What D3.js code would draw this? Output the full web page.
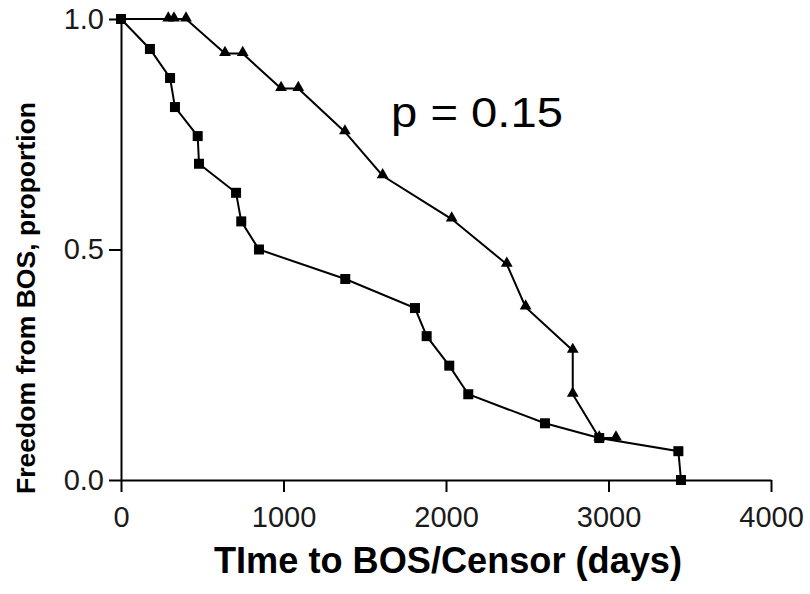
<!DOCTYPE html>
<html lang="en">
<head>
    <meta charset="UTF-8">
    <title>Freedom from BOS</title>
    <script src="https://d3js.org/d3.v7.min.js" charset="utf-8"></script>
    <style>
        body { margin: 0; background: #fff; }
        .axis text { font: 29px Arial, "Liberation Sans", sans-serif; fill: #1a1a1a; }
        .axis path, .axis line { stroke: #000; stroke-width: 2px; }
        .curve { fill: none; stroke: #000; stroke-width: 2px; }
        .title { font-family: Arial, "Liberation Sans", sans-serif; font-weight: bold; fill: #000; }
    </style>
</head>
<body>
<script>
    // group 1 (squares): days and proportion free from BOS
    var sqDays = [0, 178, 302, 332, 472, 480, 708, 740, 849, 1380, 1809, 1881, 2020, 2137, 2609, 2943, 3430, 3446];
    var sqProp = [1.0, 0.935, 0.872, 0.809, 0.746, 0.686, 0.623, 0.561, 0.5, 0.436, 0.373, 0.312, 0.248, 0.186, 0.123, 0.091, 0.0625, 0.0];

    // group 2 (triangles)
    var trDays = [0, 291, 326, 400, 640, 749, 985, 1091, 1378, 1610, 2035, 2374, 2490, 2780, 2780, 2943, 3046];
    var trProp = [1.0, 1.0, 1.0, 1.0, 0.925, 0.925, 0.849, 0.849, 0.755, 0.660, 0.566, 0.468, 0.375, 0.281, 0.186, 0.091, 0.091];

    var xTicks = [0, 1000, 2000, 3000, 4000];
    var yTicks = [0.0, 0.5, 1.0];
    var pLabel = "p = 0.15";

    // margin
    var margin = {top: 19, right: 39, bottom: 114, left: 121},
        width = 810 - margin.left - margin.right,
        height = 594 - margin.top - margin.bottom;

    var svg = d3.select("body").append("svg")
        .attr("width", 810)
        .attr("height", 594);

    var g = svg.append("g")
        .attr("transform", "translate(" + margin.left + "," + margin.top + ")");

    // scales
    var x = d3.scaleLinear().domain([0, 4000]).range([0, width]);
    var y = d3.scaleLinear().domain([0, 1]).range([height, 0]);

    // axes
    g.append("g")
        .attr("class", "axis")
        .attr("transform", "translate(0," + height + ")")
        .call(d3.axisBottom(x).tickValues(xTicks).tickFormat(d3.format("d")).tickSize(12).tickSizeOuter(0).tickPadding(14));

    g.append("g")
        .attr("class", "axis")
        .call(d3.axisLeft(y).tickValues(yTicks).tickFormat(d3.format(".1f")).tickSize(12).tickSizeOuter(0).tickPadding(5));

    // line generator
    var line = d3.line()
        .x(function(d) { return x(d[0]); })
        .y(function(d) { return y(d[1]); });

    var sq = sqDays.map(function(d, i) { return [d, sqProp[i]]; });
    var tr = trDays.map(function(d, i) { return [d, trProp[i]]; });

    g.append("path").attr("class", "curve").attr("d", line(tr));
    g.append("path").attr("class", "curve").attr("d", line(sq));

    // triangle markers (skip the start point)
    var triSym = d3.symbol().type(d3.symbolTriangle).size(60);
    g.selectAll(".tri")
        .data(tr.slice(1))
        .enter().append("path")
        .attr("class", "tri")
        .attr("d", triSym)
        .attr("transform", function(d) { return "translate(" + x(d[0]) + "," + (y(d[1]) - 1) + ")"; })
        .style("fill", "#000");

    // square markers
    g.selectAll(".sq")
        .data(sq)
        .enter().append("rect")
        .attr("class", "sq")
        .attr("x", function(d) { return x(d[0]) - 5; })
        .attr("y", function(d) { return y(d[1]) - 5; })
        .attr("width", 10)
        .attr("height", 10)
        .style("fill", "#000");

    // p value
    svg.append("text")
        .attr("x", 391)
        .attr("y", 127)
        .attr("textLength", 172)
        .attr("lengthAdjust", "spacingAndGlyphs")
        .style("font", "42px Arial, 'Liberation Sans', sans-serif")
        .text(pLabel);

    // axis titles
    svg.append("text")
        .attr("class", "title")
        .attr("x", 448)
        .attr("y", 573)
        .attr("text-anchor", "middle")
        .attr("textLength", 468)
        .attr("lengthAdjust", "spacingAndGlyphs")
        .style("font-size", "36px")
        .text("TIme to BOS/Censor (days)");

    svg.append("text")
        .attr("class", "title")
        .attr("transform", "translate(35,298) rotate(-90)")
        .attr("text-anchor", "middle")
        .attr("textLength", 392)
        .attr("lengthAdjust", "spacingAndGlyphs")
        .style("font-size", "26px")
        .text("Freedom from BOS, proportion");
</script>
</body>
</html>
